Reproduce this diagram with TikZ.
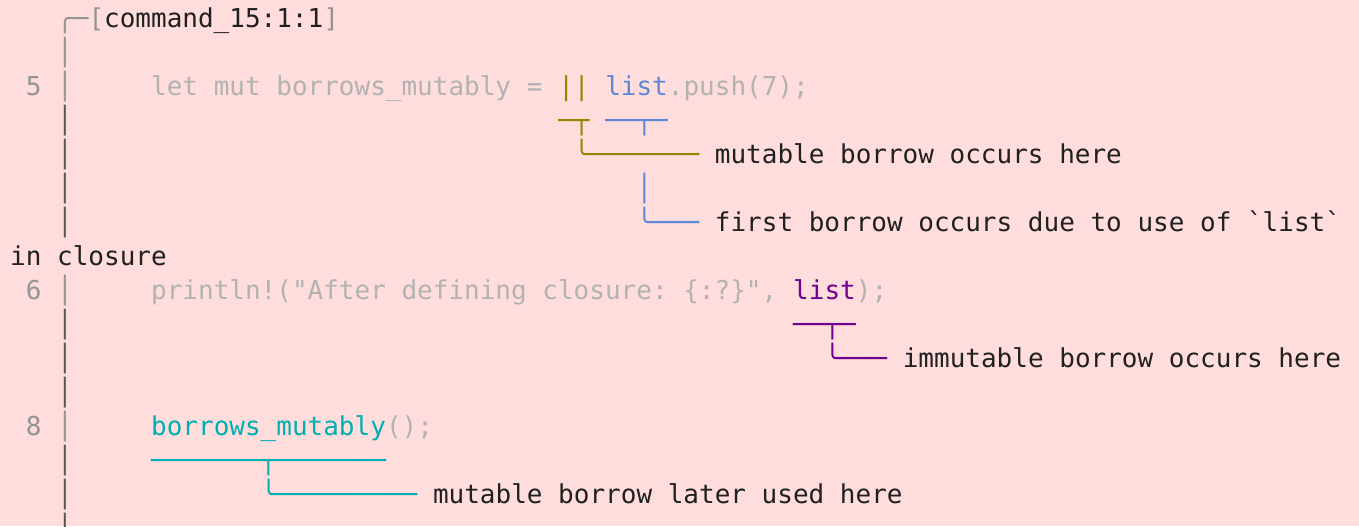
\documentclass[tikz,border=0pt]{standalone}
\usepackage{fontspec}
\setmonofont{DejaVu Sans Mono}
\definecolor{bg}{HTML}{FFDDDD}
\definecolor{marg}{HTML}{949494}
\definecolor{skip}{HTML}{585858}
\definecolor{code}{HTML}{B2B2B2}
\definecolor{txt}{HTML}{202020}
\definecolor{olive}{HTML}{8F8800}
\definecolor{lblue}{HTML}{5F87D7}
\definecolor{lpurple}{HTML}{700090}
\definecolor{lteal}{HTML}{00AFAF}
\tikzset{seg/.style={anchor=base west, inner sep=0pt, outer sep=0pt,
  font=\ttfamily\fontsize{19.5pt}{25.5pt}\selectfont\frenchspacing}}
% \seg{column}{line}{colour}{text}
\newcommand\seg[4]{\node[seg,text=#3] (L#2C#1) at ({10.2+#1*15.66},{27.3+34*#2}) {#4};}
\begin{document}
\begin{tikzpicture}[x=0.75pt,y=-0.75pt]
\fill[bg] (0,0) rectangle (1359,526);
\useasboundingbox (0,0) rectangle (1359,526);
% line 0
\seg{3}{0}{marg}{╭─}
\seg{5}{0}{marg}{[}
\seg{6}{0}{txt}{command\_15:1:1}
\seg{20}{0}{marg}{]}
% line 1
\seg{3}{1}{marg}{│}
% line 2
\seg{1}{2}{marg}{5}
\seg{3}{2}{marg}{│}
\seg{9}{2}{code}{let mut borrows\_mutably =}
\seg{35}{2}{olive}{||}
\seg{38}{2}{lblue}{list}
\seg{42}{2}{code}{.push(7);}
% line 3
\seg{3}{3}{skip}{│}
\seg{35}{3}{olive}{─┬}
\seg{38}{3}{lblue}{──┬─}
% line 4
\seg{3}{4}{skip}{│}
\seg{36}{4}{olive}{╰───────}
\seg{45}{4}{txt}{mutable borrow occurs here}
% line 5
\seg{3}{5}{skip}{│}
\seg{40}{5}{lblue}{│}
% line 6
\seg{3}{6}{skip}{│}
\seg{40}{6}{lblue}{╰───}
\seg{45}{6}{txt}{first borrow occurs due to use of `list`}
% line 7
\seg{0}{7}{txt}{in closure}
% line 8
\seg{1}{8}{marg}{6}
\seg{3}{8}{marg}{│}
\seg{9}{8}{code}{println!("After defining closure: \{:?\}",}
\seg{50}{8}{lpurple}{list}
\seg{54}{8}{code}{);}
% line 9
\seg{3}{9}{skip}{│}
\seg{50}{9}{lpurple}{──┬─}
% line 10
\seg{3}{10}{skip}{│}
\seg{52}{10}{lpurple}{╰───}
\seg{57}{10}{txt}{immutable borrow occurs here}
% line 11
\seg{3}{11}{skip}{│}
% line 12
\seg{1}{12}{marg}{8}
\seg{3}{12}{marg}{│}
\seg{9}{12}{lteal}{borrows\_mutably}
\seg{24}{12}{code}{();}
% line 13
\seg{3}{13}{skip}{│}
\seg{9}{13}{lteal}{───────┬───────}
% line 14
\seg{3}{14}{skip}{│}
\seg{16}{14}{lteal}{╰─────────}
\seg{27}{14}{txt}{mutable borrow later used here}
% line 15
\seg{3}{15}{skip}{│}
\end{tikzpicture}
\end{document}
